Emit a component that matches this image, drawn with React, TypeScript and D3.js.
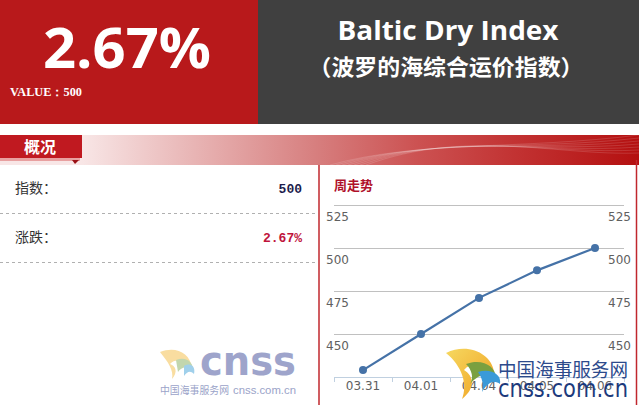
import React from "react";
import * as d3 from "d3";

const categories = ["03.31", "04.01", "04.04", "04.05", "04.06"];
const values = [429, 450, 471, 487, 500];
const yTicks = [450, 475, 500, 525];
const headlineChange = "2.67%";
const headlineValue = "500";
const titleEn = "Baltic Dry Index";
const titleZh = "（波罗的海综合运价指数）";

const W = 639;
const H = 405;

export default function App() {
  const x = d3.scaleBand<string>().domain(categories).range([334, 624]);
  const y = d3.scaleLinear().domain([425, 525]).range([377, 205]);
  const line = d3
    .line<number>()
    .x((_, i) => (x(categories[i]) as number) + x.bandwidth() / 2)
    .y((d) => y(d));
  const boundaries = categories.map((c) => x(c) as number).concat([624]);
  const cjk = '"Noto Sans CJK SC", sans-serif';

  return (
    <div style={{ position: "fixed", left: 0, top: 0, width: W, height: H, background: "#fff" }}>
      <svg width={W} height={H} style={{ display: "block" }}>
        <defs>
          <linearGradient id="band" x1="82" x2="639" y1="0" y2="0" gradientUnits="userSpaceOnUse">
            <stop offset="0" stopColor="#f8e6e6" />
            <stop offset="0.43" stopColor="#d67c7c" />
            <stop offset="0.6" stopColor="#cc5252" />
            <stop offset="0.78" stopColor="#c23232" />
            <stop offset="1" stopColor="#b41010" />
          </linearGradient>
          <linearGradient id="sw1" x1="0" x2="1" y1="0" y2="1">
            <stop offset="0" stopColor="#f6d860" />
            <stop offset="1" stopColor="#f0a020" />
          </linearGradient>
        </defs>
        <rect x={0} y={0} width={W} height={H} fill="#fff" />
        {/* header panels */}
        <rect x={0} y={0} width={258} height={124} fill="#b8191b" />
        <rect x={258} y={0} width={381} height={124} fill="#404040" />
        <text x={127} y={68} textAnchor="middle" fill="#fff" fontFamily='"Open Sans", sans-serif' fontWeight={700} fontSize={56} textLength={168} lengthAdjust="spacingAndGlyphs">{headlineChange}</text>
        <text x={10} y={96} fill="#fff" fontFamily='"Liberation Serif", serif' fontWeight={700} fontSize={12} textLength={72} lengthAdjust="spacingAndGlyphs">VALUE：{headlineValue}</text>
        <text x={448} y={40} textAnchor="middle" fill="#fff" fontFamily='"Open Sans", sans-serif' fontWeight={700} fontSize={27} textLength={221} lengthAdjust="spacingAndGlyphs">{titleEn}</text>
        <text x={446} y={75} textAnchor="middle" fill="#fff" fontFamily={cjk} fontWeight={700} fontSize={22} textLength={275} lengthAdjust="spacingAndGlyphs">{titleZh}</text>

        {/* section band */}
        <rect x={0} y={135} width={W} height={30} fill="url(#band)" />
        {[0, 1, 2, 3, 4, 5, 6].map((i) => (
          <path key={i} d={`M ${330 + i * 6} 165 C ${420 + i * 8} ${140 - i * 2}, ${520 + i * 6} ${150 + i}, ${639} ${135 + i * 3}`} fill="none" stroke="#ffffff" strokeOpacity={0.18} strokeWidth={0.8} />
        ))}
        <rect x={0} y={135} width={82} height={23} fill="#c01920" />
        <rect x={0} y={158} width={80} height={3} fill="#e8a0a0" />
        <path d="M72 160 L79 160 L75 164 Z" fill="#9a1015" />
        <text x={40} y={153} textAnchor="middle" fill="#fff" fontFamily={cjk} fontWeight={700} fontSize={16}>概况</text>

        {/* borders */}
        <line x1={319} x2={319} y1={165} y2={H} stroke="#c0272d" strokeWidth={1.5} />
        <line x1={636.5} x2={636.5} y1={160} y2={H} stroke="#c0272d" strokeWidth={1.5} />

        {/* left summary */}
        <text x={15} y={193} fill="#333" fontFamily={cjk} fontSize={14}>指数：</text>
        <text x={302} y={193} textAnchor="end" fill="#1c1c4c" fontFamily='"Liberation Mono", monospace' fontWeight={700} fontSize={13}>{headlineValue}</text>
        <line x1={0} x2={318} y1={213.5} y2={213.5} stroke="#b0b0b0" strokeDasharray="3 3" />
        <text x={15} y={242} fill="#333" fontFamily={cjk} fontSize={14}>涨跌：</text>
        <text x={302} y={242} textAnchor="end" fill="#c0143c" fontFamily='"Liberation Mono", monospace' fontWeight={700} fontSize={13}>{headlineChange}</text>
        <line x1={0} x2={318} y1={262.5} y2={262.5} stroke="#b0b0b0" strokeDasharray="3 3" />

        {/* left watermark */}
        <g opacity={0.85}>
          <path d="M160 352 C 175 346, 190 352, 192 368 C 186 360, 175 358, 170 364 C 176 366, 178 372, 172 379 C 174 370, 168 362, 160 352 Z" fill="#f8d890" />
          <path d="M176 360 C 186 356, 194 362, 193 372 C 188 366, 182 366, 178 372 Z" fill="#b8d0a0" />
          <path d="M184 366 C 190 362, 196 366, 194 374 C 190 370, 187 372, 184 376 Z" fill="#90c8e8" />
          <text x={200} y={375} fill="#8e95c2" fontFamily='"DejaVu Sans", sans-serif' fontWeight={700} fontSize={40} textLength={96} lengthAdjust="spacingAndGlyphs">cnss</text>
          <text x={160} y={394} fill="#8a93c0" fontFamily={cjk} fontSize={10} textLength={69} lengthAdjust="spacingAndGlyphs">中国海事服务网</text>
          <text x={233} y={394} fill="#8a93c0" fontFamily='"Liberation Sans", sans-serif' fontSize={11} textLength={63} lengthAdjust="spacingAndGlyphs">cnss.com.cn</text>
        </g>

        {/* chart */}
        <text x={334} y={190} fill="#b0102a" fontFamily={cjk} fontWeight={700} fontSize={13}>周走势</text>
        {yTicks.map((v) => (
          <line key={v} x1={334} x2={624} y1={y(v) + 0.5} y2={y(v) + 0.5} stroke="#c0c0c0" />
        ))}
        <line x1={334} x2={624} y1={377.5} y2={377.5} stroke="#c0d0e0" />
        {boundaries.map((b, i) => (
          <line key={i} x1={b + 0.5} x2={b + 0.5} y1={377} y2={382} stroke="#c0d0e0" />
        ))}
        {yTicks.map((v) => (
          <g key={v}>
            <text x={326} y={y(v) + 16} fill="#606060" fontFamily='"DejaVu Sans", sans-serif' fontSize={12}>{v}</text>
            <text x={631} y={y(v) + 16} textAnchor="end" fill="#606060" fontFamily='"DejaVu Sans", sans-serif' fontSize={12}>{v}</text>
          </g>
        ))}
        {categories.map((c) => (
          <text key={c} x={(x(c) as number) + x.bandwidth() / 2} y={390} textAnchor="middle" fill="#606060" fontFamily='"DejaVu Sans", sans-serif' fontSize={12}>{c}</text>
        ))}
        <path d={line(values) || ""} fill="none" stroke="#4572a7" strokeWidth={2.2} />
        {values.map((v, i) => (
          <circle key={i} cx={(x(categories[i]) as number) + x.bandwidth() / 2} cy={y(v)} r={4} fill="#4572a7" />
        ))}

        {/* right watermark */}
        <g>
          <path d="M446 353 C 468 342, 492 354, 494 372 C 484 362, 470 362, 464 370 C 474 376, 476 388, 462 399 C 468 384, 462 366, 446 353 Z" fill="url(#sw1)" />
          <path d="M466 364 C 482 358, 496 366, 496 378 C 488 372, 478 374, 470 384 C 474 378, 472 370, 466 364 Z" fill="#7aa040" />
          <path d="M478 372 C 490 368, 502 374, 500 384 C 494 380, 488 382, 482 392 C 484 384, 482 378, 478 372 Z" fill="#3a9ad8" />
          <text x={498} y={377} fill="#2c4a8c" fontFamily={cjk} fontSize={19} textLength={130} lengthAdjust="spacingAndGlyphs">中国海事服务网</text>
          <text x={498} y={397} fill="#1c3a7c" fontFamily='"DejaVu Sans", sans-serif' fontSize={25} textLength={130} lengthAdjust="spacingAndGlyphs">cnss.com.cn</text>
        </g>
      </svg>
    </div>
  );
}
